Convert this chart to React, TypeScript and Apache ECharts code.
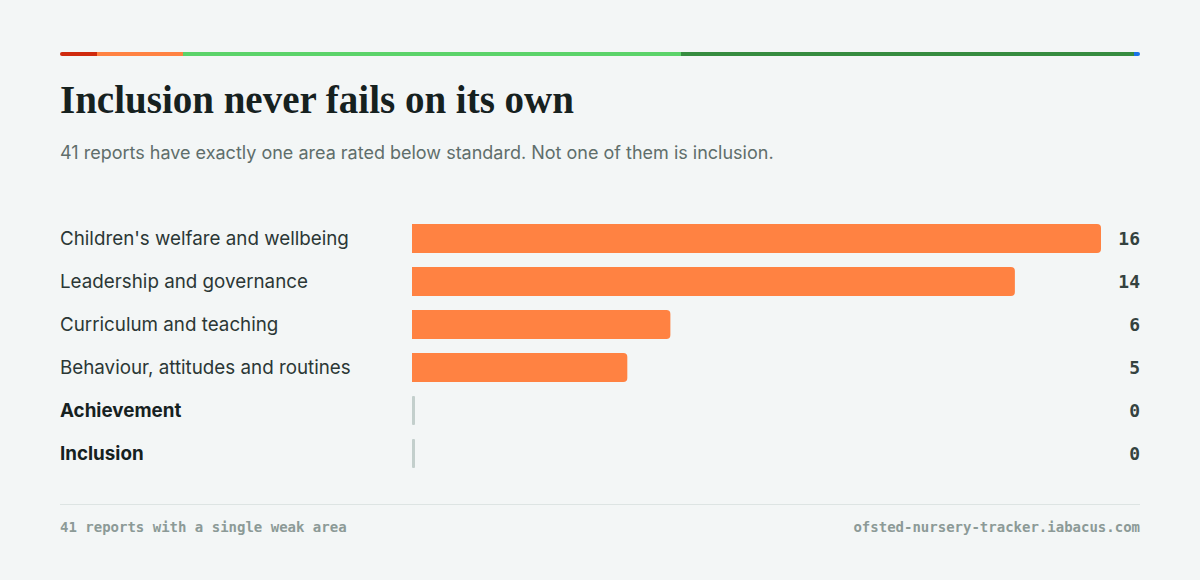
import * as echarts from 'echarts';
import { useEffect, useRef } from 'react';

// 只有一个领域低于标准的报告，按领域计数
const areas = [
  "Children's welfare and wellbeing",
  'Leadership and governance',
  'Curriculum and teaching',
  'Behaviour, attitudes and routines',
  'Achievement',
  'Inclusion',
];
const counts = [16, 14, 6, 5, 0, 0];
const boldAreas = ['Achievement', 'Inclusion'];

const BG = '#f3f6f6';
const BAR = '#ff8242';
const ZERO = '#c3cfcc';
const SANS = 'Inter, "Noto Sans", sans-serif';
const MONO = '"DejaVu Sans Mono", "Liberation Mono", monospace';

export default function App() {
  const chartRef = useRef<HTMLDivElement>(null);

  useEffect(() => {
    if (!chartRef.current) return;
    const chart = echarts.init(chartRef.current, undefined, { renderer: 'svg' });

    chart.setOption({
      animation: false,
      backgroundColor: BG,
      grid: { left: 412, right: 99, top: 217, height: 258 },
      xAxis: { type: 'value', min: 0, max: 16, show: false },
      yAxis: [
        {
          type: 'category',
          data: areas,
          inverse: true,
          axisLine: { show: false },
          axisTick: { show: false },
          axisLabel: {
            align: 'left',
            margin: 352,
            formatter: (v: string) => (boldAreas.includes(v) ? `{b|${v}}` : `{n|${v}}`),
            rich: {
              n: { fontFamily: SANS, fontSize: 18.8, color: '#2b3735' },
              b: { fontFamily: SANS, fontSize: 18.8, fontWeight: 'bold', color: '#16211f' },
            },
          },
        },
        {
          type: 'category',
          data: counts.map(String),
          inverse: true,
          position: 'right',
          axisLine: { show: false },
          axisTick: { show: false },
          axisLabel: {
            align: 'right',
            margin: 39,
            fontFamily: MONO,
            fontSize: 18,
            fontWeight: 'bold',
            color: '#34423f',
          },
        },
      ],
      series: [
        {
          type: 'bar',
          barCategoryGap: '32%',
          barMinHeight: 3,
          data: counts.map(v => ({
            value: v,
            itemStyle: { color: v === 0 ? ZERO : BAR, borderRadius: v === 0 ? 1 : [0, 4, 4, 0] },
          })),
        },
      ],
      graphic: [
        { type: 'rect', shape: { x: 60, y: 52, width: 40, height: 4, r: 2 }, style: { fill: '#cf2a0e' } },
        { type: 'rect', shape: { x: 97, y: 52, width: 86, height: 4 }, style: { fill: '#ff8242' } },
        { type: 'rect', shape: { x: 183, y: 52, width: 498, height: 4 }, style: { fill: '#5bd36a' } },
        { type: 'rect', shape: { x: 1130, y: 52, width: 10, height: 4, r: 2 }, style: { fill: '#1a73e8' } },
        { type: 'rect', shape: { x: 681, y: 52, width: 453, height: 4 }, style: { fill: '#368c40' } },
        {
          type: 'text',
          x: 60,
          y: 80,
          style: {
            text: 'Inclusion never fails on its own',
            font: 'bold 39px "Liberation Serif", serif',
            fill: '#16211f',
          },
        },
        {
          type: 'text',
          x: 60,
          y: 143,
          style: {
            text: '41 reports have exactly one area rated below standard. Not one of them is inclusion.',
            font: `18px ${SANS}`,
            fill: '#5f6e6b',
          },
        },
        { type: 'rect', shape: { x: 60, y: 504, width: 1080, height: 1 }, style: { fill: '#dde4e3' } },
        {
          type: 'text',
          x: 60,
          y: 520,
          style: { text: '41 reports with a single weak area', font: `bold 14px ${MONO}`, fill: '#8c9a97' },
        },
        {
          type: 'text',
          x: 1140,
          y: 520,
          style: {
            text: 'ofsted-nursery-tracker.iabacus.com',
            font: `bold 14px ${MONO}`,
            fill: '#8c9a97',
            align: 'right',
          },
        },
      ],
    });

    return () => chart.dispose();
  }, []);

  return (
    <div
      ref={chartRef}
      style={{ position: 'absolute', left: 0, top: 0, width: 1200, height: 580 }}
    />
  );
}
